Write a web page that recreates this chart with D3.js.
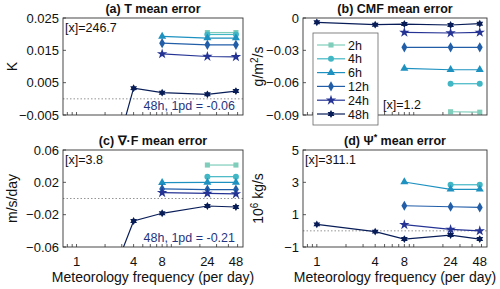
<!DOCTYPE html>
<html><head><meta charset="utf-8">
<script src="https://cdn.jsdelivr.net/npm/d3@7"></script>
<style>body{margin:0;background:#fff}svg{font-family:"Liberation Sans",Arial,Helvetica,sans-serif}</style>
</head><body><svg id="chart" width="500" height="289"></svg>
<script>
const freqs = [1, 4, 8, 24, 48];
const seriesNames = ["2h", "4h", "6h", "12h", "24h", "48h"];
const seriesColors = ["#7fcdbb", "#41b6c4", "#1d91c0", "#225ea8", "#253494", "#081d58"];
const xTickLabels = [1, 4, 8, 24, 48];

// values aligned with freqs (null = not available)
const tMeanError = [
  [null, null, null, 0.0205, 0.0205],
  [null, null, null, 0.0199, 0.0199],
  [null, null, 0.0193, 0.0188, 0.0188],
  [null, null, 0.0172, 0.0167, 0.0167],
  [null, null, 0.0139, 0.0131, 0.0130],
  [-0.06, 0.0033, 0.0019, 0.0014, 0.0024]
];
const cmfMeanError = [
  [null, null, null, -0.0870, -0.0874],
  [null, null, null, -0.0610, -0.0610],
  [null, null, -0.0467, -0.0480, -0.0480],
  [null, null, -0.0272, -0.0272, -0.0272],
  [null, null, -0.0133, -0.0139, -0.0133],
  [-0.0040, -0.0062, -0.0056, -0.0065, -0.0053]
];
const divFMeanError = [
  [null, null, null, 0.0414, 0.0414],
  [null, null, null, 0.0270, 0.0270],
  [null, null, 0.0196, 0.0200, 0.0200],
  [null, null, 0.0118, 0.0110, 0.0110],
  [null, null, 0.0072, 0.0064, 0.0056],
  [-0.21, -0.0278, -0.0183, -0.0093, -0.0105]
];
const psiMeanError = [
  [null, null, null, null, null],
  [null, null, null, 2.85, 2.85],
  [null, null, 3.02, 2.57, 2.57],
  [null, null, 1.55, 1.49, 1.45],
  [null, null, 0.38, 0.09, 0.00],
  [0.40, -0.05, -0.51, -0.26, -0.51]
];
const tTicks = [-0.005, 0.005, 0.015, 0.025];
const cmfTicks = [-0.09, -0.06, -0.03, 0];
const divFTicks = [-0.06, -0.02, 0.02, 0.06];
const psiTicks = [-1, 1, 3, 5];

const svg = d3.select("#chart");

function hexagram(size) {
  const r = Math.sqrt(size) * 0.62, ri = r * 0.58;
  const pts = [];
  for (let i = 0; i < 12; i++) {
    const a = -Math.PI / 2 + i * Math.PI / 6;
    const rr = i % 2 === 0 ? r : ri;
    pts.push([rr * Math.cos(a), rr * Math.sin(a)]);
  }
  return "M" + pts.map(p => p.join(",")).join("L") + "Z";
}
const symbolTypes = [d3.symbolSquare, d3.symbolCircle, d3.symbolTriangle, d3.symbolDiamond, d3.symbolStar, null];
const symbolSizes = [26, 28, 28, 30, 34, 40];
function markerPath(i) {
  if (i === 5) return hexagram(symbolSizes[i]);
  return d3.symbol().type(symbolTypes[i]).size(symbolSizes[i])();
}

const panels = [
  {id: "a", x0: 63, x1: 243, y0: 18, y1: 115, dom: [-0.005, 0.025], ticks: tTicks, fmt: d3.format(".3f"),
   title: "(a) T mean error", ylab: ["K"], data: tMeanError, xlab: false, zero: true,
   note: "[x]=246.7", note2: "48h, 1pd = -0.06"},
  {id: "b", x0: 303, x1: 487, y0: 18, y1: 115, dom: [-0.09, 0], ticks: cmfTicks, fmt: d => d === 0 ? "0" : d3.format(".2f")(d),
   title: "(b) CMF mean error", ylab: "cmf", data: cmfMeanError, xlab: false, zero: false,
   note: null, note2: null},
  {id: "c", x0: 63, x1: 243, y0: 150, y1: 247, dom: [-0.06, 0.06], ticks: divFTicks, fmt: d3.format(".2f"),
   title: "divF", ylab: ["m/s/day"], data: divFMeanError, xlab: true, zero: true,
   note: "[x]=3.8", note2: "48h, 1pd = -0.21"},
  {id: "d", x0: 303, x1: 487, y0: 150, y1: 247, dom: [-1, 5], ticks: psiTicks, fmt: d3.format("d"),
   title: "psi", ylab: "psi", data: psiMeanError, xlab: true, zero: true,
   note: "[x]=311.1", note2: null}
];

const minorTicks = [0.8, 0.9, 1, 2, 3, 4, 5, 6, 7, 8, 9, 10, 20, 30, 40, 50];

panels.forEach(p => {
  const x = d3.scaleLog().domain([0.72, 57]).range([p.x0, p.x1]);
  const y = d3.scaleLinear().domain(p.dom).range([p.y1, p.y0]);
  const g = svg.append("g");
  const cx = (p.x0 + p.x1) / 2;

  g.append("clipPath").attr("id", "clip" + p.id).append("rect")
    .attr("x", p.x0).attr("y", p.y0 - 4).attr("width", p.x1 - p.x0).attr("height", p.y1 - p.y0 + 4);

  // title
  const t = g.append("text").attr("x", cx).attr("y", p.y0 - 5).attr("text-anchor", "middle")
    .attr("font-size", 12.5).attr("font-weight", "bold").attr("fill", "#111");
  if (p.title === "divF") {
    t.text("(c) \u2207\u00B7F mean error");
  } else if (p.title === "psi") {
    t.append("tspan").text("(d) \u03A8");
    t.append("tspan").attr("dy", -5).attr("font-size", 9).text("*");
    t.append("tspan").attr("dy", 5).text(" mean error");
  } else t.text(p.title);

  // zero line
  if (p.zero) {
    g.append("line").attr("x1", p.x0).attr("x2", p.x1).attr("y1", y(0)).attr("y2", y(0))
      .attr("stroke", "#888").attr("stroke-width", 0.9).attr("stroke-dasharray", "1.5,2");
  }

  // y ticks and labels
  p.ticks.forEach(v => {
    g.append("line").attr("x1", p.x0).attr("x2", p.x0 + 3).attr("y1", y(v)).attr("y2", y(v))
      .attr("stroke", "#333").attr("stroke-width", 0.8);
    g.append("text").attr("x", p.x0 - 4).attr("y", y(v)).attr("dy", "0.35em")
      .attr("text-anchor", "end").attr("font-size", 13).attr("fill", "#111").text(p.fmt(v));
  });
  // x minor ticks
  minorTicks.forEach(v => {
    if (x(v) < p.x0 || x(v) > p.x1) return;
    g.append("line").attr("x1", x(v)).attr("x2", x(v)).attr("y1", p.y1).attr("y2", p.y1 - 3)
      .attr("stroke", "#333").attr("stroke-width", 0.8);
  });
  if (p.xlab) {
    xTickLabels.forEach(v => {
      g.append("text").attr("x", x(v)).attr("y", p.y1 + 19).attr("text-anchor", "middle")
        .attr("font-size", 13).attr("fill", "#111").text(v);
    });
    g.append("text").attr("x", cx).attr("y", p.y1 + 35).attr("text-anchor", "middle")
      .attr("font-size", 14).attr("fill", "#111").text("Meteorology frequency (per day)");
  }

  // y label
  const ylx = p.x0 < 200 ? 17 : 263;
  const yl = g.append("text").attr("transform", `translate(${ylx},${(p.y0 + p.y1) / 2}) rotate(-90)`)
    .attr("text-anchor", "middle").attr("font-size", 14).attr("fill", "#111");
  if (p.ylab === "cmf") {
    yl.append("tspan").text("g/m");
    yl.append("tspan").attr("dy", -5).attr("font-size", 10).text("2");
    yl.append("tspan").attr("dy", 5).text("/s");
  } else if (p.ylab === "psi") {
    yl.append("tspan").text("10");
    yl.append("tspan").attr("dy", -5).attr("font-size", 10).text("6");
    yl.append("tspan").attr("dy", 5).text(" kg/s");
  } else yl.text(p.ylab[0]);

  // series
  const plot = g.append("g").attr("clip-path", `url(#clip${p.id})`);
  const line = d3.line().defined(d => d.v !== null).x(d => x(d.f)).y(d => y(d.v));
  p.data.forEach((vals, i) => {
    const pts = vals.map((v, k) => ({f: freqs[k], v}));
    plot.append("path").datum(pts).attr("d", line).attr("fill", "none")
      .attr("stroke", seriesColors[i]).attr("stroke-width", 1.2);
    plot.selectAll(null).data(pts.filter(d => d.v !== null)).enter().append("path")
      .attr("transform", d => `translate(${x(d.f)},${y(d.v)})`)
      .attr("d", markerPath(i)).attr("fill", seriesColors[i]);
  });

  // box
  g.append("rect").attr("x", p.x0).attr("y", p.y0).attr("width", p.x1 - p.x0).attr("height", p.y1 - p.y0)
    .attr("fill", "none").attr("stroke", "#333").attr("stroke-width", 0.9);

  if (p.note) {
    g.append("text").attr("x", p.x0 + 2).attr("y", p.y0 + 14).attr("font-size", 12.5).attr("fill", "#111").text(p.note);
  }
  if (p.note2) {
    g.append("text").attr("x", p.x1 - 8).attr("y", p.y1 - 5).attr("text-anchor", "end")
      .attr("font-size", 12.5).attr("fill", "#1f3580").text(p.note2);
  }
  if (p.id === "b") {
    g.append("text").attr("x", 383).attr("y", 109).attr("font-size", 12.5).attr("fill", "#111").text("[x]=1.2");
    // legend
    const lg = svg.append("g");
    lg.append("rect").attr("x", 313).attr("y", 33).attr("width", 65).attr("height", 92)
      .attr("fill", "#fff").attr("stroke", "#666").attr("stroke-width", 0.8);
    seriesNames.forEach((n, i) => {
      const ly = 45 + i * 13.8;
      lg.append("line").attr("x1", 317).attr("x2", 345).attr("y1", ly).attr("y2", ly)
        .attr("stroke", seriesColors[i]).attr("stroke-width", 1.2);
      lg.append("path").attr("transform", `translate(331,${ly})`).attr("d", markerPath(i)).attr("fill", seriesColors[i]);
      lg.append("text").attr("x", 348).attr("y", ly).attr("dy", "0.36em").attr("font-size", 12.5)
        .attr("fill", "#111").text(n);
    });
  }
});
</script></body></html>
